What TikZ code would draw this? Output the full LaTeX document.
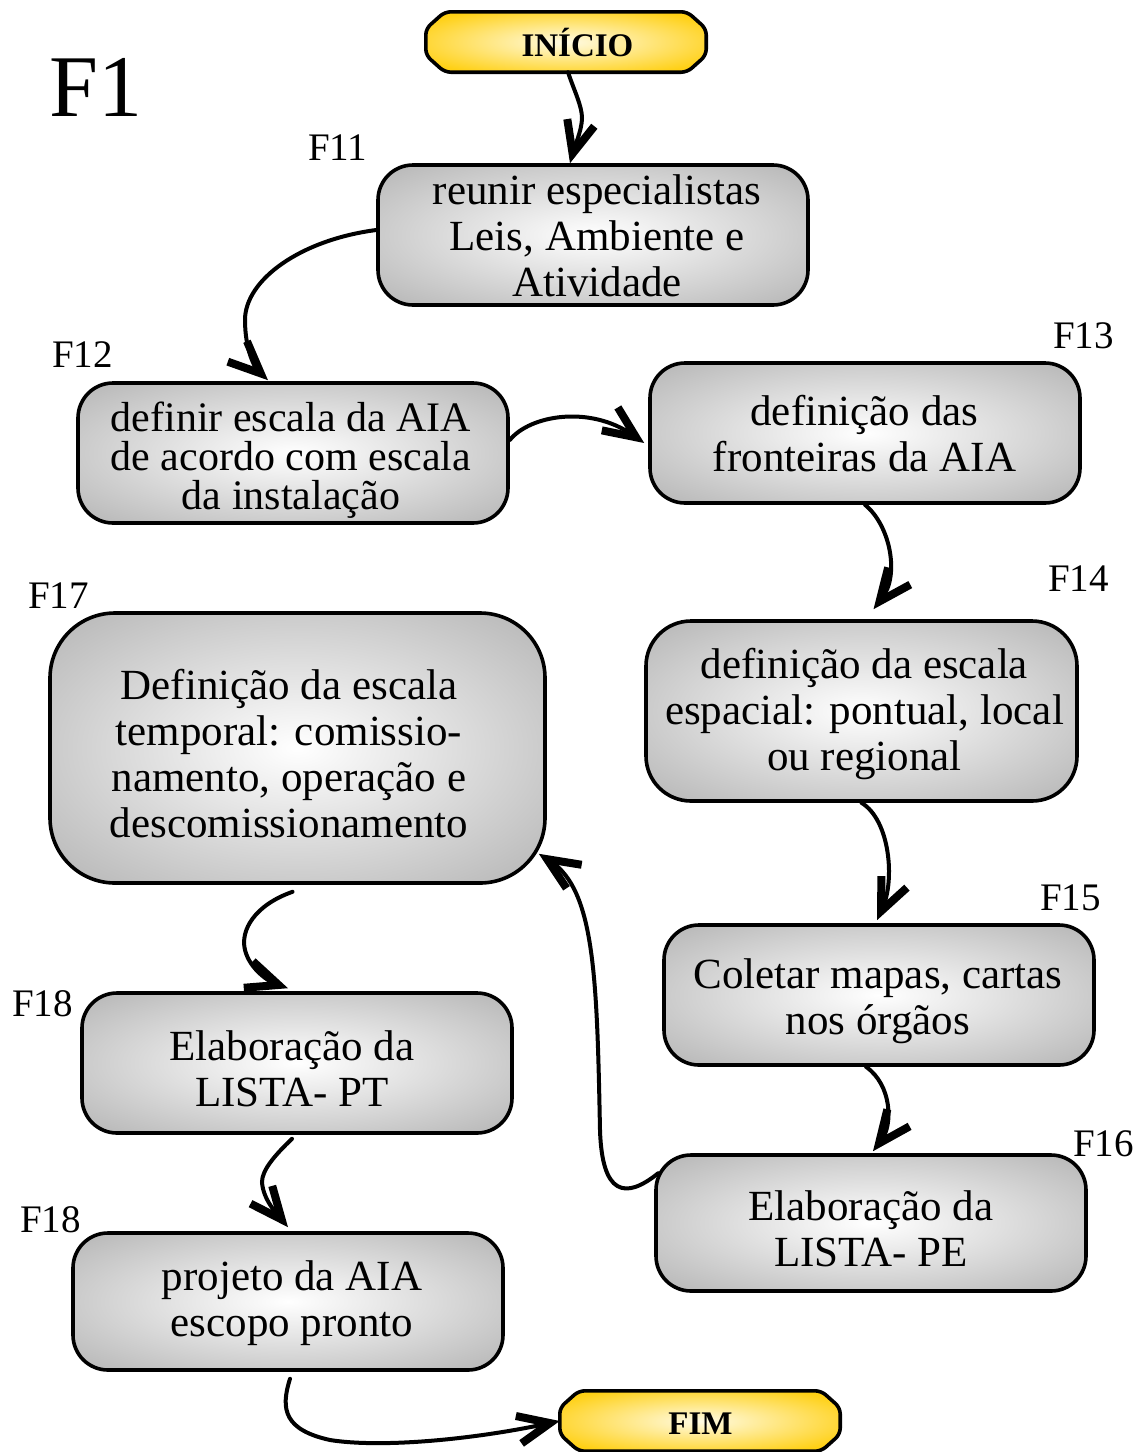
\documentclass[tikz,border=0pt]{standalone}
\usepackage{fontspec}
\setmainfont{Liberation Serif}
\usetikzlibrary{arrows.meta}
\definecolor{boxedge}{RGB}{182,182,182}
\definecolor{goldc}{RGB}{255,208,20}
\definecolor{creamc}{RGB}{255,251,228}
\pgfdeclareradialshading{boxshade}{\pgfpoint{0bp}{0bp}}{color(0bp)=(white); color(35bp)=(boxedge); color(50bp)=(boxedge)}
\pgfdeclareradialshading{termshade}{\pgfpoint{0bp}{0bp}}{color(0bp)=(creamc); color(30bp)=(goldc); color(50bp)=(goldc)}
\newcommand\mytermpath[1]{%
  \draw[termbg] ([xshift=19pt]#1.north west) -- ([xshift=-19pt]#1.north east) -- ([yshift=-17pt]#1.north east) -- ([yshift=17pt]#1.south east) -- ([xshift=-19pt]#1.south east) -- ([xshift=19pt]#1.south west) -- ([yshift=17pt]#1.south west) -- ([yshift=-17pt]#1.north west) -- cycle;}
\tikzset{
  box/.style={draw, line width=3.6pt, shading=boxshade, rounded corners=35pt,
    minimum width=430pt, minimum height=140pt, inner sep=0pt},
  boxtext/.style={align=center, inner sep=0pt, font=\fontsize{43}{46}\selectfont},
  term/.style={minimum width=280pt, minimum height=60pt, inner sep=0pt},
  termtext/.style={inner sep=0pt, font=\fontsize{33}{36}\selectfont\bfseries},
  termbg/.style={draw, line width=3.6pt, shading=termshade, rounded corners=6pt},
  lab/.style={anchor=base west, inner sep=0pt, font=\fontsize{39}{42}\selectfont},
  conn/.style={line width=4pt, line cap=round,
    -{Straight Barb[length=32pt,width=28pt,line width=8pt 0]}}
}
\begin{document}
\begin{tikzpicture}[x=1pt,y=-1pt]
\useasboundingbox (0,0) rectangle (1141,1452);
% terminals
\node[term] (INI) at (566,42) {};
\mytermpath{INI}
\node[termtext] (tINI) at (577.5,43) {INÍCIO};
\node[term] (FIM) at (700,1421) {};
\mytermpath{FIM}
\node[termtext] (tFIM) at (700.5,1424) {FIM};
% boxes
\node[box] (b11) at (593,235) {};
\node[box] (b12) at (293,453) {};
\node[box] (b13) at (865,433) {};
\node[box, minimum width=431pt, minimum height=180pt, rounded corners=45pt] (b14) at (861.5,711) {};
\node[box, minimum width=495pt, minimum height=270pt, rounded corners=65pt] (b17) at (297.5,748) {};
\node[box] (b15) at (879,995) {};
\node[box, minimum height=136pt] (b16) at (871,1223) {};
\node[box] (b18) at (297,1063) {};
\node[box, minimum height=137pt] (b19) at (288,1301.5) {};
% box texts
\node[boxtext] (t11) at (597,236) {reunir especialistas\\Leis, Ambiente e\\Atividade};
\node[boxtext, font=\fontsize{42}{39}\selectfont] (t12) at (291,460) {definir escala da AIA\\de acordo com escala\\da instalação};
\node[boxtext] (t13) at (864.5,433.5) {definição das\\fronteiras da AIA};
\node[boxtext] (t14) at (864.5,714) {definição da escala\\espacial: pontual, local\\ou regional};
\node[boxtext] (t17) at (289,753.5) {Definição da escala\\temporal: comissio-\\namento, operação e\\descomissionamento};
\node[boxtext] (t15) at (878,1001) {Coletar mapas, cartas\\nos órgãos};
\node[boxtext] (t16) at (871,1229) {Elaboração da\\LISTA- PE};
\node[boxtext] (t18) at (292,1069) {Elaboração da\\LISTA- PT};
\node[boxtext] (t19) at (292,1303) {projeto da AIA\\escopo pronto};
% labels
\node[lab, font=\fontsize{88}{92}\selectfont] (lF1) at (49,116) {F1};
\node[lab] (l11) at (308,160) {F11};
\node[lab] (l12) at (52,367) {F12};
\node[lab] (l13) at (1053,348) {F13};
\node[lab] (l14) at (1048,591) {F14};
\node[lab] (l17) at (28,608) {F17};
\node[lab] (l15) at (1040,910) {F15};
\node[lab] (l18) at (12,1016) {F18};
\node[lab] (l16) at (1073,1156) {F16};
\node[lab] (l18b) at (20,1232) {F18};
% connectors
\draw[conn] ([xshift=2pt]INI.south) .. controls +(6,18) and +(0,-12) .. (582,118)
  .. controls +(0,12) and +(4,-15) .. ([xshift=-23pt]b11.north);
\draw[conn] ([yshift=5pt]b11.west) .. controls (300,240) and (245,280) .. (245,320)
  .. controls (245,350) and (255,368) .. ([xshift=-25pt,yshift=1pt]b12.north);
\draw[conn] ([yshift=13pt]b12.east) .. controls (530,415) and (590,405) .. ([xshift=-4pt,yshift=-10pt]b13.west);
\draw[conn] (b13.south) .. controls (890,525) and (900,575) .. ([xshift=12pt,yshift=10pt]b14.north);
\draw[conn] (b14.south) .. controls (890,820) and (895,880) .. ([xshift=-2pt,yshift=3pt]b15.north);
\draw[conn] ([xshift=-13pt]b15.south) .. controls (892,1085) and (893,1125) .. ([xshift=2pt,yshift=2pt]b16.north);
\draw[conn] ([xshift=4pt,yshift=-20pt]b16.north west) .. controls (625,1200) and (602,1195) .. (600,1130)
  .. controls (597,980) and (595,890) .. ([xshift=-8pt,yshift=31pt]b17.south east);
\draw[conn] ([xshift=-5pt,yshift=-7pt]b17.south) .. controls (255,905) and (240,930) .. (245,950)
  .. controls (250,970) and (270,982) .. ([xshift=-9pt,yshift=3pt]b18.north);
\draw[conn] ([xshift=-5pt,yshift=-4pt]b18.south) .. controls (275,1155) and (262,1170) .. (262,1182)
  .. controls (263,1200) and (278,1215) .. ([xshift=0pt,yshift=4pt]b19.north);
\draw[conn] ([xshift=2pt,yshift=-7pt]b19.south) .. controls (280,1410) and (285,1430) .. (330,1440)
  .. controls (380,1448) and (470,1440) .. (FIM.west);
\end{tikzpicture}
\end{document}
